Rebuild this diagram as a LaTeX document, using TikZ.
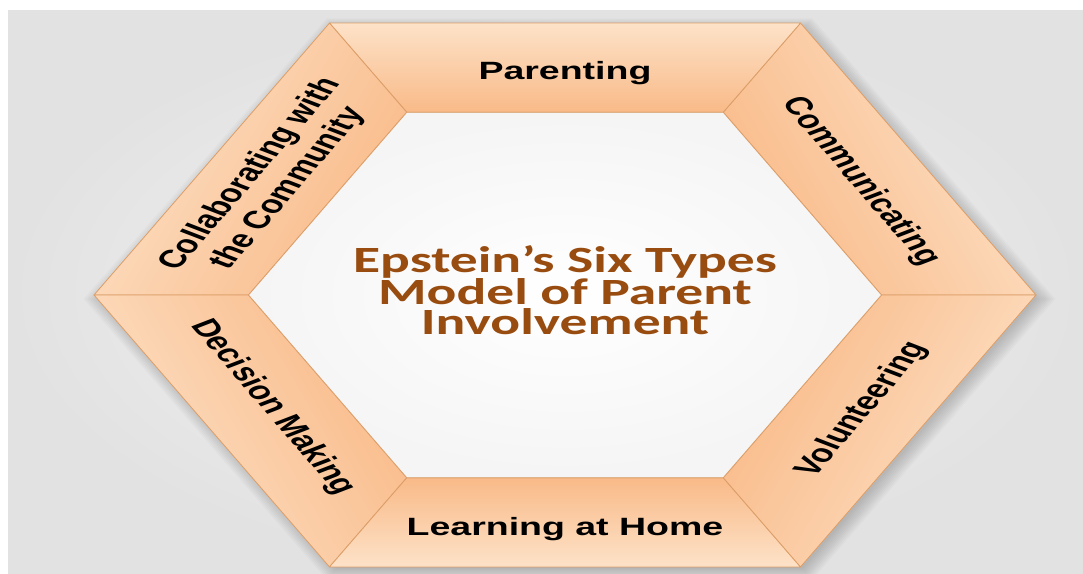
\documentclass[tikz,border=0pt]{standalone}
\usepackage{fontspec}
\newfontfamily\labfont{Liberation Sans}
\newfontfamily\titlefont{Carlito}
\definecolor{bgin}{RGB}{246,246,246}
\definecolor{bgout}{RGB}{226,226,226}
\definecolor{inc}{RGB}{249,186,136}
\definecolor{outc}{RGB}{253,226,200}
\definecolor{segline}{RGB}{220,158,104}
\definecolor{titlec}{RGB}{152,76,16}
\begin{document}
\begin{tikzpicture}[x=1pt,y=1pt,
  lab/.style={font=\labfont\bfseries\fontsize{25}{29}\selectfont, text=black,
              transform shape, align=center, inner sep=0pt},
  seg/.style={draw=segline, line width=0.8pt, line join=round},
  ttl/.style={font=\titlefont\bfseries\fontsize{37}{29.5}\selectfont, text=titlec,
              transform shape, align=center, inner sep=0pt}]
\useasboundingbox (0,0) rectangle (1083,573);
\fill[white] (0,0) rectangle (1083,573);
\shade[inner color=bgin, outer color=bgout] (8,0) rectangle (1083,562);
\begin{scope}[shift={(565,278)}, xscale=1.5]
  % soft shadow
  \foreach \k in {0,...,9}{
    \fill[black, opacity=0.018, shift={(3,-4)}]
      (0:{324-\k*1.4}) -- (60:{324-\k*1.4}) -- (120:{324-\k*1.4}) --
      (180:{324-\k*1.4}) -- (240:{324-\k*1.4}) -- (300:{324-\k*1.4}) -- cycle;
  }
  % six segments
  \foreach \t [evaluate=\t as \sa using \t-90, evaluate=\t as \ta using \t-30,
               evaluate=\t as \tb using \t+30] in {30,90,150,210,270,330}{
    \shade[seg, top color=outc, bottom color=inc, shading angle=\sa]
      (\ta:314) -- (\tb:314) -- (\tb:211) -- (\ta:211) -- cycle;
  }
  % inner hexagon
  \shade[seg, inner color=white, outer color=black!4]
    (0:211) -- (60:211) -- (120:211) -- (180:211) -- (240:211) -- (300:211) -- cycle;
  % labels
  \node[lab] (parenting) at (90:222) {Parenting};
  \node[lab, rotate=-60] (communicating) at (30:227.5) {Communicating};
  \node[lab, rotate=60] (volunteering) at (-30:229) {Volunteering};
  \node[lab] (learning) at (-90:234) {Learning at Home};
  \node[lab, rotate=-60] (decision) at (210:225) {Decision Making};
  \node[lab, rotate=60] (collab) at (150:227.5) {Collaborating with\\the Community};
  \node[ttl] (title) at (0,5) {Epstein’s Six Types\\Model of Parent\\Involvement};
\end{scope}
\end{tikzpicture}
\end{document}
